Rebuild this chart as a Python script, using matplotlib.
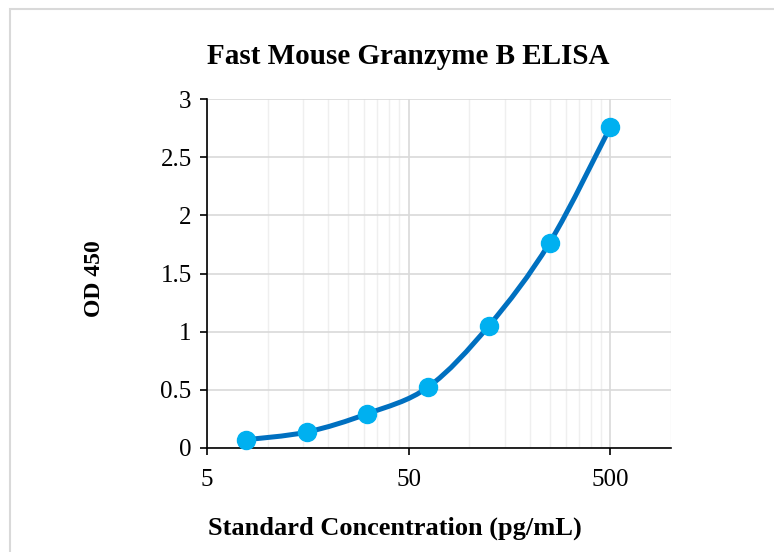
import matplotlib
matplotlib.use("Agg")
import matplotlib.pyplot as plt
import numpy as np
from matplotlib.path import Path
from matplotlib.patches import PathPatch, Rectangle
from matplotlib.ticker import FixedLocator, NullFormatter

concentration = [7.8, 15.6, 31.25, 62.5, 125, 250, 500]
od450 = [0.071, 0.137, 0.295, 0.524, 1.051, 1.764, 2.758]

x_ticks = [5, 50, 500]
x_tick_labels = ["5", "50", "500"]
y_ticks = [0, 0.5, 1, 1.5, 2, 2.5, 3]
y_tick_labels = ["0", "0.5", "1", "1.5", "2", "2.5", "3"]

plt.rcParams['font.family'] = ['Liberation Serif', 'DejaVu Serif']

fig = plt.figure(figsize=(7.74, 5.52), dpi=100)
W, H = 774, 552
ax = fig.add_axes([207 / W, 1 - 448 / H, (671 - 207) / W, (448 - 99) / H])

# chart area border (light gray, runs off the right/bottom edge)
fig.patches.append(Rectangle((10 / W, -0.1), 1.2, 1 - 9 / H + 0.1, transform=fig.transFigure,
                             fill=False, edgecolor='#d9d9d9', linewidth=1.5))

ax.set_xscale('log')
ax.set_xlim(5, 1000)
ax.set_ylim(0, 3)

# minor gridlines at multiples of 5 within each decade
minor = [5 * 10 ** d * k for d in range(0, 3) for k in range(2, 10)]
minor = [m for m in minor if m <= 1000 and m not in x_ticks]
ax.xaxis.set_major_locator(FixedLocator(x_ticks))
ax.xaxis.set_minor_locator(FixedLocator(minor))
ax.xaxis.set_minor_formatter(NullFormatter())
ax.set_xticklabels(x_tick_labels)
ax.set_yticks(y_ticks)
ax.set_yticklabels(y_tick_labels)

ax.grid(True, which='major', color='#d9d9d9', linewidth=1.2)
ax.grid(True, which='minor', axis='x', color='#efefef', linewidth=1.0)
ax.set_axisbelow(True)

for s in ['top', 'right']:
    ax.spines[s].set_visible(False)
for s in ['left', 'bottom']:
    ax.spines[s].set_color('black')
    ax.spines[s].set_linewidth(1.2)

ax.tick_params(axis='both', which='major', direction='out', length=5, width=1.2,
               labelsize=18, colors='black', pad=6)
ax.tick_params(axis='x', which='minor', length=0)
ax.tick_params(axis='x', which='major', pad=10)

# smoothed line (Catmull-Rom style Bezier in log-x space)
u = np.log10(concentration)
v = np.array(od450)
pts = np.column_stack([(u - np.log10(5)) / np.log10(200), v / 3.0 * (349 / 464)])
verts = [pts[0]]
codes = [Path.MOVETO]
n = len(pts)
for i in range(n - 1):
    p0 = pts[i - 1] if i > 0 else pts[i]
    p1 = pts[i]
    p2 = pts[i + 1]
    p3 = pts[i + 2] if i + 2 < n else pts[i + 1]
    c1 = p1 + (p2 - p0) / 6
    c2 = p2 - (p3 - p1) / 6
    verts += [c1, c2, p2]
    codes += [Path.CURVE4] * 3
verts = np.array(verts)
data_verts = np.column_stack([5 * 10 ** (verts[:, 0] * np.log10(200)),
                              verts[:, 1] * 3.0 / (349 / 464)])
ax.add_patch(PathPatch(Path(data_verts, codes), facecolor='none', edgecolor='#0070C0',
                       linewidth=3.6, capstyle='round', zorder=3))
ax.plot(concentration, od450, linestyle='none', marker='o', markersize=13,
        color='#00B0F0', zorder=4, clip_on=False)

fig.text(408 / W, 1 - 56 / H, 'Fast Mouse Granzyme B ELISA', ha='center', va='center',
         fontsize=21, fontweight='bold')
fig.text(395 / W, 1 - 528 / H, 'Standard Concentration (pg/mL)', ha='center', va='center',
         fontsize=19, fontweight='bold')
fig.text(95 / W, 1 - 279 / H, 'OD 450', ha='center', va='center', rotation=90,
         fontsize=17, fontweight='bold')

fig.savefig('out.png', dpi=100)
